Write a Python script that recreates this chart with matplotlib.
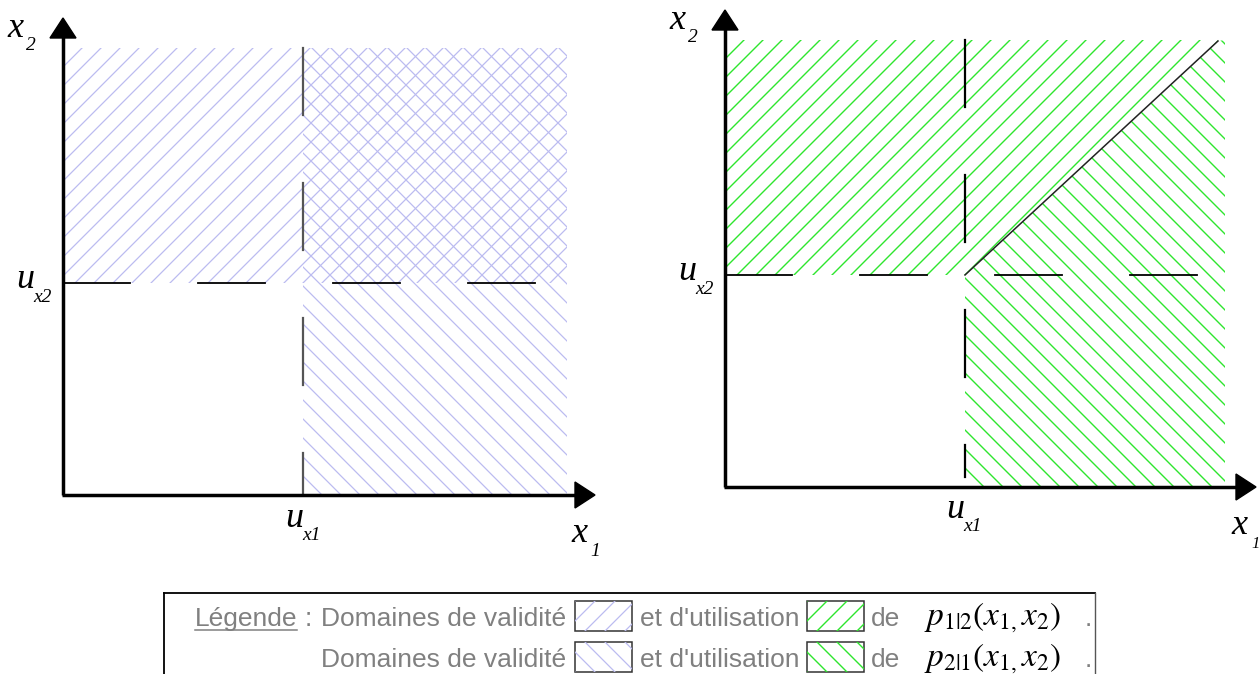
import matplotlib
matplotlib.use("Agg")
from matplotlib import pyplot as plt
from matplotlib.patches import Polygon, Rectangle
import numpy as np

plt.rcParams['mathtext.fontset'] = 'stix'

# geometrie des deux schemas (pixels, y vers le bas)
left_origin = (63, 495)
left_top = (48, 567)          # haut des domaines, bord droit
left_u = (303, 283)           # u_x1, u_x2
right_origin = (725, 487)
right_top = (40, 1225)
right_u = (965, 275)
diag_end = (1218, 41)

lavande = "#bcbcf0"
vert = "#2ee52e"
gris = "#808080"

fig = plt.figure(figsize=(12.59, 6.74), dpi=100)
ax = fig.add_axes([0, 0, 1, 1])
ax.set_xlim(0, 1259)
ax.set_ylim(674, 0)
ax.axis("off")


def hachure(pts, sens, couleur, pas=19, lw=0.9):
    poly = Polygon(pts, closed=True, fc="none", ec="none")
    ax.add_patch(poly)
    pts = np.array(pts, dtype=float)
    x0, x1 = pts[:, 0].min(), pts[:, 0].max()
    y0, y1 = pts[:, 1].min(), pts[:, 1].max()
    if sens == "/":
        cs = np.arange(x0 + y0 - pas, x1 + y1 + pas, pas)
        for c in cs:
            ln, = ax.plot([x0 - 5, x1 + 5], [c - x0 + 5, c - x1 - 5],
                          color=couleur, lw=lw)
            ln.set_clip_path(poly)
    else:
        cs = np.arange(x0 - y1 - pas, x1 - y0 + pas, pas)
        for c in cs:
            ln, = ax.plot([x0 - 5, x1 + 5], [x0 - 5 - c, x1 + 5 - c],
                          color=couleur, lw=lw)
            ln.set_clip_path(poly)


def tirets(a, b, fixe, horizontal, couleur, dash=67, gap=68):
    s = a
    while s < b:
        e = min(s + dash, b)
        if horizontal:
            ax.plot([s, e], [fixe, fixe], color=couleur, lw=1.3)
        else:
            ax.plot([fixe, fixe], [s, e], color=couleur, lw=1.6)
        s += dash + gap


def axes_fleches(ox, oy, top, right):
    ax.plot([ox, ox], [oy, top + 18], color="black", lw=2.5, solid_capstyle="butt")
    ax.plot([ox - 1, right - 18], [oy, oy], color="black", lw=2.5, solid_capstyle="butt")
    ax.add_patch(Polygon([(ox - 13, top + 20), (ox + 13, top + 20), (ox, top)],
                         closed=True, fc="black", ec="black"))
    ax.add_patch(Polygon([(right - 20, oy - 13), (right - 20, oy + 13), (right, oy)],
                         closed=True, fc="black", ec="black"))


def label(x, y, lettre, indice, taille=26, taille_ind=14, dx=16, dy=14):
    ax.text(x, y, lettre, family="Liberation Serif", style="italic",
            fontsize=taille, ha="left", va="baseline")
    ax.text(x + dx, y + dy, indice, family="Liberation Serif", style="italic",
            fontsize=taille_ind, ha="left", va="baseline")


# ---- schema de gauche : domaines de validite
ox, oy = left_origin
ty, rx = left_top
ux, uy = left_u
hachure([(ox, ty), (rx, ty), (rx, uy), (ox, uy)], "/", lavande)
hachure([(ux, ty), (rx, ty), (rx, oy), (ux, oy)], "\\", lavande)
tirets(ox, rx, uy, True, "black")
tirets(ty, oy, ux, False, "#555555")
axes_fleches(ox, oy, 18, 595)
label(7, 37, "x", "2", dx=19, dy=13)
label(16, 288, "u", "x2", dx=17, dy=14)
label(285, 527, "u", "x1", dx=17, dy=13)
label(571, 542, "x", "1", dx=19, dy=14)

# ---- schema de droite : domaines d'utilisation
ox, oy = right_origin
ty, rx = right_top
ux, uy = right_u
dx_, dy_ = diag_end
haut = [(ox, ty), (dx_, ty), (dx_, dy_), (ux, uy), (ox, uy)]
bas = [(ux, uy), (dx_, dy_), (rx, ty), (rx, oy), (ux, oy)]
hachure(haut, "/", vert, lw=1.0)
hachure(bas, "\\", vert, lw=1.0)
ax.plot([ux, dx_], [uy, dy_], color="#222222", lw=1.1)
tirets(ox, rx, uy, True, "black")
tirets(ty, oy - 10, ux, False, "black")
axes_fleches(ox, oy, 10, 1256)
label(669, 29, "x", "2", dx=19, dy=13)
label(678, 280, "u", "x2", dx=17, dy=14)
label(946, 518, "u", "x1", dx=17, dy=13)
label(1231, 534, "x", "1", dx=20, dy=14, taille_ind=12)

# ---- legende
ax.plot([164, 1095], [593, 593], color="black", lw=1.3)
ax.plot([164, 164], [593, 674], color="black", lw=1.3)
ax.plot([1095, 1095], [593, 674], color="#555555", lw=1.0)

lignes = [626, 667]
formules = [r"$p_{1|2}(x_{1,}x_{2})$", r"$p_{2|1}(x_{1,}x_{2})$"]
sens_h = ["/", "\\"]
police = dict(family="Liberation Sans", fontsize=19, color=gris, va="baseline")

ax.text(195, lignes[0], "Légende", ha="left", **police)
ax.plot([195, 297], [630, 630], color=gris, lw=1.1)
ax.text(305, lignes[0], ":", ha="left", **police)

for i, yb in enumerate(lignes):
    ax.text(566, yb, "Domaines de validité", ha="right", **police)
    b1 = [(575, yb - 25), (632, yb - 25), (632, yb + 5), (575, yb + 5)]
    hachure(b1, sens_h[i], lavande, pas=20, lw=0.9)
    ax.add_patch(Rectangle((575, yb - 25), 57, 30, fc="none", ec="#333333", lw=1.1))
    ax.text(640, yb, "et d'utilisation", ha="left", **police)
    b2 = [(807, yb - 25), (864, yb - 25), (864, yb + 5), (807, yb + 5)]
    hachure(b2, sens_h[i], vert, pas=20, lw=1.0)
    ax.add_patch(Rectangle((807, yb - 25), 57, 30, fc="none", ec="#333333", lw=1.1))
    ax.text(871, yb, "de", ha="left", **police)
    ax.text(924, yb - 1, formules[i], ha="left", va="baseline", fontsize=24)
    ax.text(1085, yb, ".", ha="left", **police)

fig.savefig("out.png", dpi=100)
